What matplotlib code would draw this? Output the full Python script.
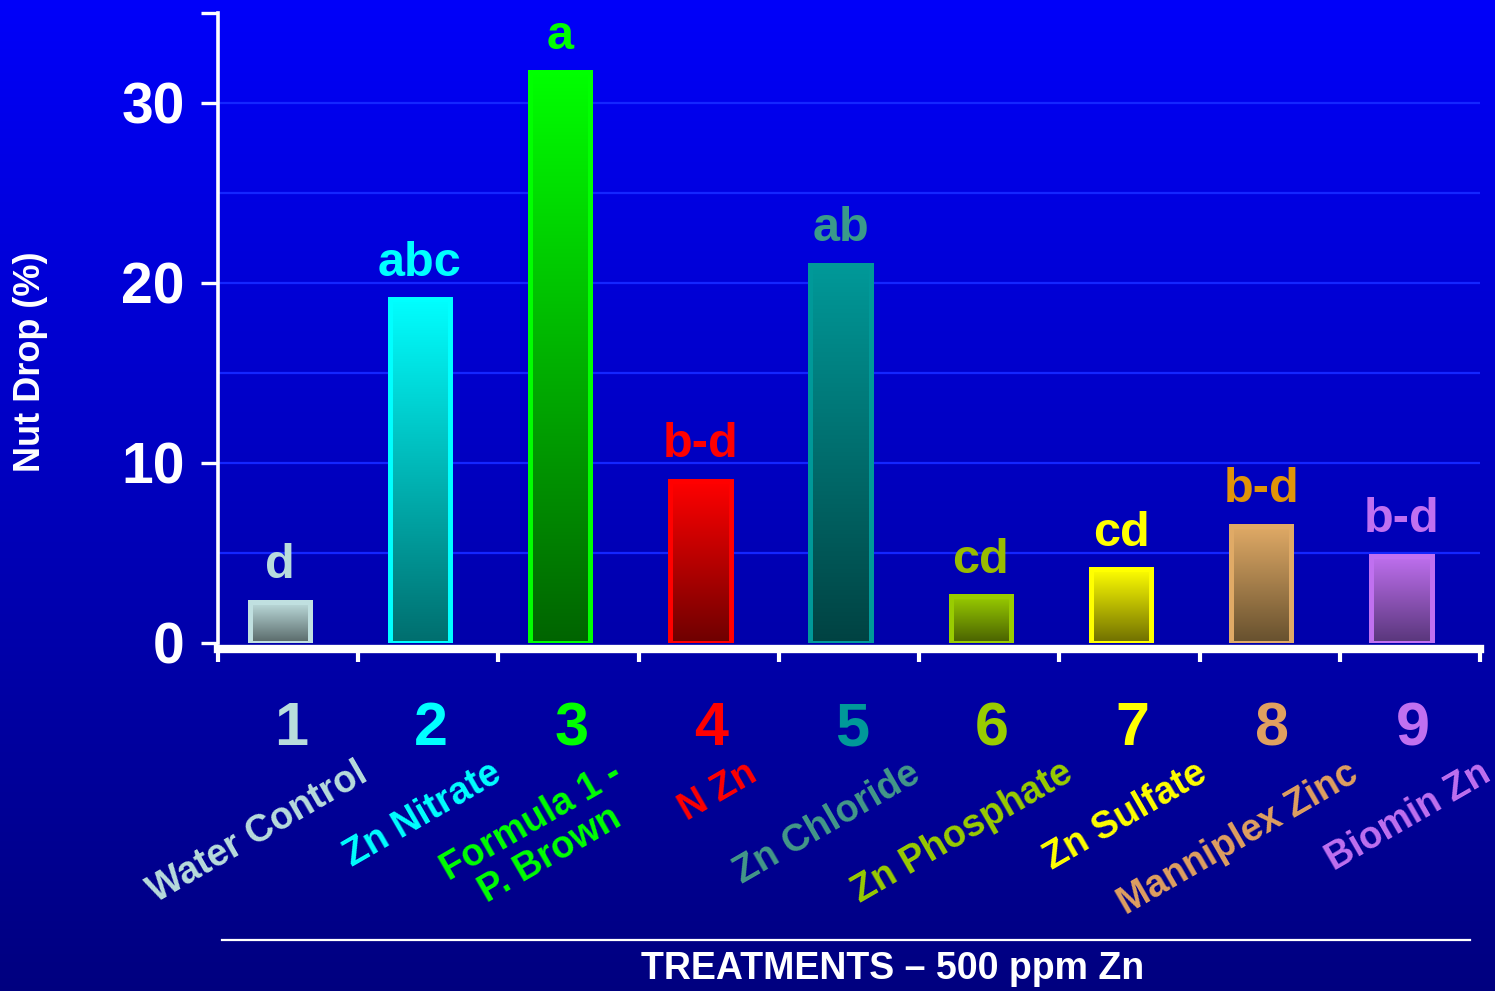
import numpy as np
import matplotlib
matplotlib.use("Agg")
import matplotlib.pyplot as plt
from matplotlib.colors import to_rgb
from matplotlib.lines import Line2D

# values
treatment_numbers = ["1", "2", "3", "4", "5", "6", "7", "8", "9"]
treatment_names = [
    "Water Control", "Zn Nitrate", "Formula 1 -\nP. Brown", "N Zn", "Zn Chloride",
    "Zn Phosphate", "Zn Sulfate", "Manniplex Zinc", "Biomin Zn",
]
nut_drop = [2.3, 19.1, 31.7, 9.0, 21.0, 2.6, 4.1, 6.5, 4.85]
letters = ["d", "abc", "a", "b-d", "ab", "cd", "cd", "b-d", "b-d"]
y_ticks = [0, 10, 20, 30, 35]
y_tick_labels = ["0", "10", "20", "30", ""]

# styling
bar_top_colors = ["#c0e0e0", "#00ffff", "#00ff00", "#ff0000", "#009999",
                  "#99cc00", "#ffff00", "#e0aa66", "#c070f0"]
bar_bottom_colors = ["#586868", "#006e6e", "#006400", "#6e0000", "#004242",
                     "#486000", "#6e6e00", "#66502e", "#58367a"]
letter_colors = ["#b8dcdc", "#00ffff", "#00ff00", "#ff0000", "#3a9a8a",
                 "#99bb00", "#ffff00", "#e09408", "#c070f0"]
number_colors = ["#b8dcdc", "#00ffff", "#00ff00", "#ff0000", "#009999",
                 "#99cc00", "#ffff00", "#e0a060", "#c070f0"]
name_colors = ["#b8dcdc", "#00ffff", "#00ff00", "#ff0000", "#449988",
               "#99cc00", "#ffff00", "#e0a060", "#c070f0"]
# hand placement of the slanted names on the slide (data units)
name_nudge = [-0.05, -0.09, -0.235, -0.27, -0.11, -0.02, -0.06, 0.015, -0.04]

FONT = "Liberation Sans"
BAR_WIDTH = 0.43
BAR_SHIFT = -0.06

plt.rcParams["font.family"] = [FONT, "DejaVu Sans"]
plt.rcParams["font.weight"] = "bold"

fig = plt.figure(figsize=(14.95, 9.91), dpi=100)

# slide background: bright blue at top fading to navy
bg = fig.add_axes([0, 0, 1, 1], zorder=-10)
t = np.linspace(0, 1, 512)[:, None]
top_bg = np.array([0.0, 0.0, 0.98])
bot_bg = np.array([0.0, 0.0, 0.50])
grad = (top_bg * (1 - t) + bot_bg * t).reshape(512, 1, 3)
bg.imshow(grad, aspect="auto", extent=[0, 1, 0, 1], interpolation="bilinear")
bg.axis("off")

ax = fig.add_axes([218 / 1495, 1 - 643 / 991, 1262 / 1495, 630 / 991])
ax.patch.set_alpha(0)

x = np.arange(len(nut_drop))
bar_x = x + BAR_SHIFT

for xi, v, c_top, c_bot in zip(bar_x, nut_drop, bar_top_colors, bar_bottom_colors):
    s = np.linspace(0, 1, 256)[:, None]
    col = np.array(to_rgb(c_top)) * (1 - s) + np.array(to_rgb(c_bot)) * s
    ax.imshow(col.reshape(256, 1, 3), aspect="auto", origin="upper",
              extent=[xi - BAR_WIDTH / 2, xi + BAR_WIDTH / 2, 0, v],
              interpolation="bilinear", zorder=2)

ax.bar(bar_x, nut_drop, width=BAR_WIDTH, facecolor="none",
       edgecolor=bar_top_colors, linewidth=3.6, zorder=3)

for xi, v, txt, c in zip(bar_x, nut_drop, letters, letter_colors):
    ax.annotate(txt, (xi, v), xytext=(0, 17), textcoords="offset points",
                ha="center", va="baseline", fontsize=35, fontweight="bold",
                color=c, zorder=4)

# faint grid every 5 %
for g in [5, 10, 15, 20, 25, 30]:
    ax.axhline(g, color="#1426ff", linewidth=1.6, zorder=1)

ax.set_xlim(-0.5, 8.5)
ax.set_ylim(0, 35)

for side in ["top", "right"]:
    ax.spines[side].set_visible(False)
ax.spines["left"].set_color("white")
ax.spines["left"].set_linewidth(2.6)
ax.spines["bottom"].set_color("white")
ax.spines["bottom"].set_linewidth(6)
ax.spines["bottom"].set_position(("outward", 4))

ax.set_yticks(y_ticks, labels=y_tick_labels)
ax.tick_params(axis="y", direction="out", length=12, width=2.4, colors="white",
               labelsize=41, pad=12)
for lab in ax.get_yticklabels():
    lab.set_fontweight("bold")

ax.set_xticks(np.arange(-0.5, 9, 1))
ax.set_xticklabels([])
ax.tick_params(axis="x", direction="out", length=9, width=3, colors="white")

trans = ax.get_xaxis_transform()
for xi, num, c in zip(x, treatment_numbers, number_colors):
    ax.text(xi + 0.02, -0.138, num, transform=trans, ha="center", va="center",
            fontsize=44, fontweight="bold", color=c, clip_on=False)

for xi, name, c, dx in zip(x, treatment_names, name_colors, name_nudge):
    ax.text(xi + 0.53 + dx, -0.178, name, transform=trans, ha="right", va="top",
            multialignment="center", rotation=30, rotation_mode="anchor",
            fontsize=27, fontweight="bold", color=c, clip_on=False,
            linespacing=1.1)

ax.add_line(Line2D([-0.47, 8.43], [-0.471, -0.471], transform=trans,
                   color="white", linewidth=1.6, clip_on=False))
ax.text(4.31, -0.518, "TREATMENTS \u2013 500 ppm Zn", transform=trans,
        ha="center", va="center", fontsize=27, fontweight="bold",
        color="white", clip_on=False)

fig.text(31 / 1495, 1 - 362 / 991, "Nut Drop (%)", rotation=90, ha="center",
         va="center", fontsize=26, fontweight="bold", color="white")

fig.savefig("out.png", dpi=100)
